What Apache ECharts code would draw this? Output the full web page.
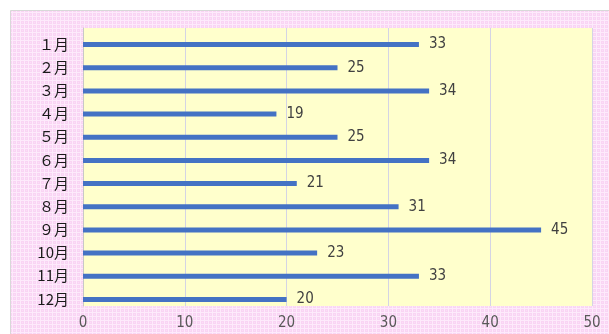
<!DOCTYPE html>
<html>
<head>
<meta charset="utf-8">
<script src="https://cdn.jsdelivr.net/npm/echarts@6/dist/echarts.min.js"></script>
<style>
  html, body { margin: 0; padding: 0; background: #fff; }
  #chart { width: 609px; height: 334px; }
</style>
</head>
<body>
<div id="chart"></div>
<script>
var months = ['１月', '２月', '３月', '４月', '５月', '６月', '７月', '８月', '９月', '10月', '11月', '12月'];
var values = [33, 25, 34, 19, 25, 34, 21, 31, 45, 23, 33, 20];
var xTicks = [0, 10, 20, 30, 40, 50];

// small pink check pattern for the chart area background
function makePattern() {
    var c = document.createElement('canvas');
    c.width = 4;
    c.height = 4;
    var ctx = c.getContext('2d');
    ctx.fillStyle = '#f9d4f4';
    ctx.fillRect(0, 0, 4, 4);
    ctx.fillStyle = '#fdeafb';
    ctx.fillRect(0, 0, 4, 1);
    ctx.fillRect(0, 0, 1, 4);
    ctx.fillStyle = '#fbdff7';
    ctx.fillRect(2, 2, 1, 1);
    return c;
}

var chart = echarts.init(document.getElementById('chart'));

var option = {
    backgroundColor: '#ffffff',
    animation: false,
    graphic: [
        {
            type: 'rect',
            z: -10,
            silent: true,
            shape: { x: 10.5, y: 10.5, width: 610, height: 330 },
            style: {
                fill: { image: makePattern(), repeat: 'repeat' },
                stroke: '#d8d8d8',
                lineWidth: 1
            }
        }
    ],
    grid: {
        left: 83,
        right: 17,
        top: 28,
        bottom: 28,
        show: true,
        backgroundColor: '#ffffcc',
        borderWidth: 0
    },
    xAxis: {
        type: 'value',
        min: xTicks[0],
        max: xTicks[xTicks.length - 1],
        interval: 10,
        axisLine: { show: false },
        axisTick: { show: false },
        splitLine: { show: true, lineStyle: { color: '#d4d4e4', width: 1 } },
        axisLabel: {
            color: '#595959',
            fontSize: 15,
            margin: 10,
            fontFamily: 'DejaVu Sans Condensed, sans-serif'
        }
    },
    yAxis: {
        type: 'category',
        inverse: true,
        data: months,
        axisLine: { show: true, lineStyle: { color: '#c8c8c8' } },
        axisTick: { show: false },
        axisLabel: {
            margin: 14,
            // nudge the month names down so they sit level with the bars
            formatter: '{m|{value}}',
            rich: {
                m: {
                    color: '#1a1a1a',
                    fontSize: 15,
                    padding: [9, 0, 0, 0],
                    fontFamily: 'Noto Sans CJK JP, sans-serif'
                }
            }
        }
    },
    series: [
        {
            // empty series, only there to push the real bars a bit lower in each band
            type: 'bar',
            data: [],
            barWidth: 5,
            barGap: '100%',
            silent: true
        },
        {
            type: 'bar',
            data: values,
            barWidth: 5,
            barGap: '100%',
            itemStyle: { color: '#4472c4' },
            label: {
                show: true,
                position: 'right',
                distance: 10,
                color: '#404040',
                fontSize: 15,
                fontFamily: 'DejaVu Sans Condensed, sans-serif'
            }
        }
    ]
};

chart.setOption(option);
</script>
</body>
</html>
